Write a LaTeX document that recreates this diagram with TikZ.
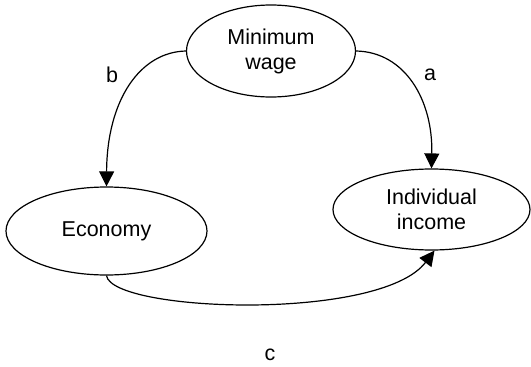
\documentclass[tikz,border=0pt]{standalone}
\usepackage{fontspec}
\setmainfont{Liberation Sans}
\usetikzlibrary{shapes.geometric,arrows.meta}
\begin{document}
\begin{tikzpicture}[x=1pt,y=-1pt,
  blob/.style={ellipse,draw,line width=1.2pt,inner sep=0pt,align=center,
    font=\fontsize{21.5}{25}\selectfont},
  conn/.style={line width=1.2pt,-{Triangle[length=15pt,width=15pt]}},
  lbl/.style={font=\fontsize{21.5}{25}\selectfont}]
\useasboundingbox (0,0) rectangle (531,367);
\node[blob,minimum width=169pt,minimum height=92pt] (mw) at (271,51) {Minimum\\wage};
\node[blob,minimum width=201pt,minimum height=88pt] (eco) at (106.5,231) {Economy};
\node[blob,minimum width=197pt,minimum height=81pt] (ind) at (431.5,209.5) {Individual\\income};
\draw[conn] (mw.west) .. controls (140,52) and (107,100) .. (eco.north);
\draw[conn] (mw.east) .. controls (405,52) and (433,100) .. (ind.north);
\draw[conn] (eco.south) .. controls (112,312) and (380,322) .. ([xshift=3pt]ind.south);
\node[lbl] (lb) at (112,75) {b};
\node[lbl] (la) at (430,75) {a};
\node[lbl] (lc) at (270,355) {c};
\end{tikzpicture}
\end{document}
